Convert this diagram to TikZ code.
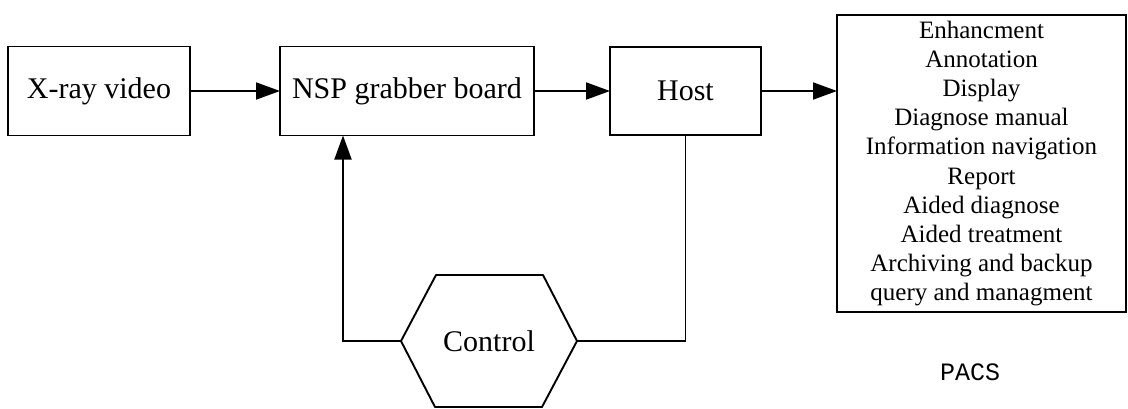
\documentclass[tikz,border=0pt]{standalone}
\usepackage{fontspec}
\setmainfont{Liberation Serif}
\newfontfamily\pacsfont{Liberation Mono}
\usetikzlibrary{arrows.meta,calc}
\begin{document}
\begin{tikzpicture}[x=1pt,y=-1pt,
  every node/.style={inner sep=0pt,outer sep=0pt},
  block/.style={draw,line width=1.9pt,font=\fontsize{30}{34}\selectfont},
  flow/.style={line width=1.9pt,-{Triangle[length=24pt,width=17pt]}},
  wire/.style={line width=1.9pt}]
  \useasboundingbox (0,0) rectangle (1128,408);

  % processing chain
  \node[block,minimum width=182pt,minimum height=89pt] (xray) at (99,91) {X-ray video};
  \node[block,minimum width=254pt,minimum height=89pt] (nsp) at (407,91) {NSP grabber board};
  \node[block,minimum width=151pt,minimum height=88pt] (host) at (685.5,91) {Host};
  \node[draw,line width=1.9pt,minimum width=289pt,minimum height=297pt,
        align=center,font=\fontsize{25}{29.2}\selectfont] (pacs) at (981.5,163.5)
        {Enhancment\\Annotation\\Display\\Diagnose manual\\Information navigation\\
         Report\\Aided diagnose\\Aided treatment\\Archiving and backup\\query and managment};
  \node[font=\pacsfont\fontsize{25}{28}\selectfont] (pacslabel) at (970,372) {PACS};

  % control hexagon
  \node[font=\fontsize{30}{34}\selectfont] (ctrl) at (489,341) {Control};
  \coordinate (ctrlW) at ($(ctrl)+(-88,0)$);
  \coordinate (ctrlE) at ($(ctrl)+(88,0)$);
  \draw[wire,line join=round] (ctrlW) -- ++(35,-66) -- ++(107,0) -- (ctrlE)
        -- ++(-35,66) -- ++(-107,0) -- cycle;

  % connectors
  \draw[flow] (xray.east) -- (xray.east -| nsp.west);
  \draw[flow] (nsp.east) -- (nsp.east -| host.west);
  \draw[flow] (host.east) -- (host.east -| pacs.west);
  \coordinate (fbL) at ($(ctrlW)+(-58,0)$);
  \draw[flow] (ctrlW) -- (fbL) -- (fbL |- nsp.south);
  \draw[wire] (host.south) |- (ctrlE);
\end{tikzpicture}
\end{document}
